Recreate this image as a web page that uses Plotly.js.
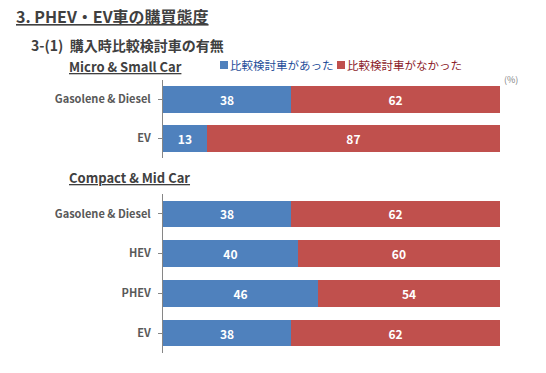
<!DOCTYPE html>
<html>
<head>
<meta charset="utf-8">
<script src="https://cdn.plot.ly/plotly-3.0.1.min.js"></script>
<style>html,body{margin:0;padding:0;background:#fff}#chart{width:546px;height:373px}</style>
</head>
<body>
<div id="chart"></div>
<script>
const W = 546, H = 373;
const seriesNames = ['比較検討車があった', '比較検討車がなかった'];
const colors = ['#4F81BD', '#C0504D'];
const legendTextColors = ['#1F4E9A', '#8C1D2B'];

const microCategories = ['Gasolene & Diesel', 'EV'];
const microYes = [38, 13];
const microNo = [62, 87];

const compactCategories = ['Gasolene & Diesel', 'HEV', 'PHEV', 'EV'];
const compactYes = [38, 40, 46, 38];
const compactNo = [62, 60, 54, 62];

const FONT = '"Noto Sans CJK JP", "DejaVu Sans", sans-serif';
const px = x => x / W;
const py = y => 1 - y / H;

function barTrace(cats, vals, i, yaxis) {
  return {
    type: 'bar', orientation: 'h',
    y: cats, x: vals, yaxis: yaxis, xaxis: yaxis === 'y' ? 'x' : 'x2',
    name: seriesNames[i], showlegend: false,
    marker: {color: colors[i]},
    text: vals.map(String), textposition: 'inside', insidetextanchor: 'middle',
    textfont: {color: '#ffffff', size: 12, family: FONT, weight: 'bold'},
    hoverinfo: 'x+y'
  };
}

const data = [
  barTrace(microCategories, microYes, 0, 'y'),
  barTrace(microCategories, microNo, 1, 'y'),
  barTrace(compactCategories, compactYes, 0, 'y2'),
  barTrace(compactCategories, compactNo, 1, 'y2')
];

const xCommon = {range: [0, 100], showticklabels: false, showgrid: false, zeroline: false, showline: false, ticks: '', fixedrange: true};
const yCommon = {autorange: 'reversed', showgrid: false, zeroline: false, showline: true, linecolor: '#868686', linewidth: 1,
  ticks: 'outside', ticklen: 4, tickcolor: '#868686', ticklabelmode: 'period',
  tickfont: {family: FONT, size: 11, color: '#595959', weight: 'bold'}, ticksuffix: '  '};

const legendX = [220, 337];
const shapes = legendX.map((x, i) => ({type: 'rect', xref: 'paper', yref: 'paper',
  x0: px(x), x1: px(x + 8), y0: py(69), y1: py(61), fillcolor: colors[i], line: {width: 0}}));
const legendAnn = legendX.map((x, i) => ({text: seriesNames[i], x: px(x + 8), y: py(65), xref: 'paper', yref: 'paper',
  xanchor: 'left', yanchor: 'middle', showarrow: false, font: {size: 11.5, color: legendTextColors[i], family: FONT}}));

const layout = {
  width: W, height: H,
  margin: {l: 0, r: 0, t: 0, b: 0},
  paper_bgcolor: '#ffffff', plot_bgcolor: '#ffffff',
  font: {family: FONT, color: '#404040'},
  barmode: 'stack', bargap: 0.33,
  showlegend: false,
  xaxis: Object.assign({}, xCommon, {domain: [px(163), px(500)], anchor: 'y'}),
  xaxis2: Object.assign({}, xCommon, {domain: [px(163), px(500)], anchor: 'y2'}),
  yaxis: Object.assign({}, yCommon, {domain: [py(158), py(80)], anchor: 'x'}),
  yaxis2: Object.assign({}, yCommon, {domain: [py(353), py(194)], anchor: 'x2'}),
  shapes: shapes,
  annotations: [
    {text: '<b><u>3. PHEV・EV車の購買態度</u></b>', x: px(14), y: py(16), xref: 'paper', yref: 'paper',
      xanchor: 'left', yanchor: 'middle', showarrow: false, font: {size: 16, color: '#404040', family: FONT}},
    {text: '<b>3-(1)  購入時比較検討車の有無</b>', x: px(29), y: py(45), xref: 'paper', yref: 'paper',
      xanchor: 'left', yanchor: 'middle', showarrow: false, font: {size: 14, color: '#404040', family: FONT}},
    {text: '<b><u>Micro &amp; Small Car</u></b>', x: px(67), y: py(66), xref: 'paper', yref: 'paper',
      xanchor: 'left', yanchor: 'middle', showarrow: false, font: {size: 13, color: '#404040', family: FONT}},
    {text: '<b><u>Compact &amp; Mid Car</u></b>', x: px(67), y: py(177), xref: 'paper', yref: 'paper',
      xanchor: 'left', yanchor: 'middle', showarrow: false, font: {size: 13, color: '#404040', family: FONT}},
    {text: '(%)', x: px(520), y: py(79), xref: 'paper', yref: 'paper',
      xanchor: 'right', yanchor: 'middle', showarrow: false, font: {size: 9, color: '#7f7f7f', family: FONT}}
  ].concat(legendAnn)
};

Plotly.newPlot('chart', data, layout, {displayModeBar: false, staticPlot: true});
</script>
</body>
</html>
